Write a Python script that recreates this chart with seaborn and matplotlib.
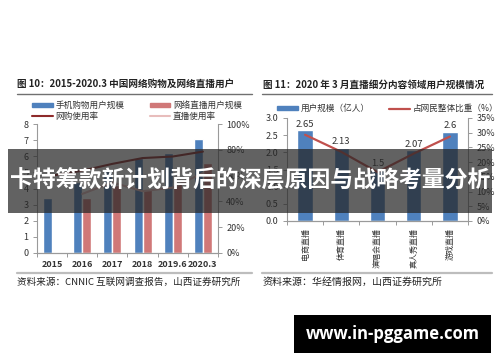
import numpy as np
import pandas as pd
import seaborn as sns
from matplotlib import pyplot as plt
from matplotlib.lines import Line2D
from matplotlib.patches import Patch, Rectangle
from matplotlib.ticker import PercentFormatter, FixedLocator

sns.set_theme(style="white")
plt.rcParams['font.family'] = ['Noto Sans CJK SC', 'DejaVu Sans']

# figure 10 data
years = ["2015", "2016", "2017", "2018", "2019.6", "2020.3"]
mobile_shop_users = [3.40, 4.41, 5.06, 5.92, 6.21, 7.07]
live_users = [np.nan, 3.44, 4.22, 3.97, 4.33, 5.60]
shop_rate = [60.0, 63.8, 69.1, 73.6, 74.8, 78.6]
live_rate = [np.nan, 45.8, 54.7, 47.9, 50.7, 62.0]

# figure 11 data
genres = ["电商直播", "体育直播", "演唱会直播", "真人秀直播", "游戏直播"]
genre_users = [2.65, 2.13, 1.5, 2.07, 2.6]
genre_share = [29.3, 23.5, 16.6, 22.9, 28.7]

BLUE = "#4F81BD"
RED_BAR = "#D07878"
DARK_RED = "#8E2A2A"
PINK = "#E8BDBC"
LINE_RED = "#C0504D"
TXT = "#333333"
SPINE = "#9A9A9A"

W, H = 500, 362
fig = plt.figure(figsize=(5, 3.62), dpi=100)
fig.patch.set_facecolor("white")


def fx(px):
    return px / W


def fy(py):
    return (H - py) / H


def style_axes(ax, axr):
    for a in (ax, axr):
        a.spines["top"].set_visible(False)
        for s in ("left", "right", "bottom"):
            a.spines[s].set_color(SPINE)
            a.spines[s].set_linewidth(0.8)
    ax.spines["right"].set_visible(False)
    axr.spines["left"].set_visible(False)
    ax.tick_params(axis="y", which="major", left=True, length=3, width=0.7,
                   color=SPINE, labelsize=6.5, labelcolor=TXT, pad=3)
    axr.tick_params(axis="y", which="major", right=True, length=3, width=0.7,
                    color=SPINE, labelsize=6.5, labelcolor=TXT, pad=3)
    ax.tick_params(axis="x", which="major", bottom=False, length=0,
                   labelsize=6.5, labelcolor=TXT, pad=5)
    ax.tick_params(axis="x", which="minor", bottom=True, length=3, width=0.7,
                   color=SPINE)
    ax.set_xlabel("")
    ax.set_ylabel("")
    axr.set_xlabel("")
    axr.set_ylabel("")


# ---------- left chart ----------
ax1 = fig.add_axes([fx(37), fy(253), fx(218) - fx(37), fy(124) - fy(253)])
bars_df = pd.DataFrame({
    "year": years * 2,
    "series": ["手机购物用户规模"] * len(years) + ["网络直播用户规模"] * len(years),
    "value": mobile_shop_users + live_users,
})
sns.barplot(data=bars_df, x="year", y="value", hue="series",
            palette=[BLUE, RED_BAR], width=0.6, gap=0, saturation=1,
            legend=False, ax=ax1)
ax1r = ax1.twinx()
pos1 = np.arange(len(years))
sns.lineplot(x=pos1, y=shop_rate, color=DARK_RED, lw=1.5, ax=ax1r)
sns.lineplot(x=pos1, y=live_rate, color=PINK, lw=1.5, ax=ax1r)
ax1.set_xlim(-0.5, len(years) - 0.5)
ax1.set_ylim(0, 8)
ax1.set_yticks(range(0, 9))
ax1r.set_ylim(0, 100)
ax1r.set_yticks(range(0, 101, 20))
ax1r.yaxis.set_major_formatter(PercentFormatter(decimals=0))
ax1.xaxis.set_minor_locator(FixedLocator(np.arange(-0.5, len(years), 1)))
style_axes(ax1, ax1r)
for lab in ax1.get_xticklabels():
    lab.set_fontweight("bold")

leg1 = [Patch(color=BLUE), Line2D([], [], color=DARK_RED, lw=1.5),
        Patch(color=RED_BAR), Line2D([], [], color=PINK, lw=1.5)]
fig.legend(leg1, ["手机购物用户规模", "网购使用率", "网络直播用户规模", "直播使用率"],
           loc="upper left", bbox_to_anchor=(fx(28), fy(97)), ncol=2,
           frameon=False, fontsize=6.2, handlelength=2.4, handleheight=0.35,
           handletextpad=0.3, columnspacing=2.9, labelspacing=0.2,
           labelcolor=TXT, borderpad=0)

# ---------- right chart ----------
ax2 = fig.add_axes([fx(287), fy(221), fx(468) - fx(287), fy(118) - fy(221)])
sns.barplot(x=genres, y=genre_users, color=BLUE, width=0.42, saturation=1,
            ax=ax2)
ax2.bar_label(ax2.containers[0], labels=[f"{v:g}" for v in genre_users],
              padding=1, fontsize=6.8, color=TXT)
ax2r = ax2.twinx()
pos2 = np.arange(len(genres))
sns.lineplot(x=pos2, y=genre_share, color=LINE_RED, lw=1.6, ax=ax2r)
ax2.set_xlim(-0.5, len(genres) - 0.5)
ax2.set_ylim(0, 3.0)
ax2.set_yticks(np.arange(0, 3.01, 0.5))
ax2.yaxis.set_major_formatter(lambda v, p: f"{v:.1f}")
ax2r.set_ylim(0, 35)
ax2r.set_yticks(range(0, 36, 5))
ax2r.yaxis.set_major_formatter(PercentFormatter(decimals=0))
ax2.xaxis.set_minor_locator(FixedLocator(np.arange(-0.5, len(genres), 1)))
style_axes(ax2, ax2r)
ax2.tick_params(axis="x", which="major", labelsize=5.8, pad=5)
for lab in ax2.get_xticklabels():
    lab.set_rotation(90)
    lab.set_va("top")

fig.legend([Patch(color=BLUE), Line2D([], [], color=LINE_RED, lw=1.6)],
           ["用户规模（亿人）", "占网民整体比重（%）"],
           loc="upper left", bbox_to_anchor=(fx(273), fy(100)), ncol=2,
           frameon=False, fontsize=6.2, handlelength=2.4, handleheight=0.35,
           handletextpad=0.3, columnspacing=2.3, labelcolor=TXT, borderpad=0)

# ---------- titles, rules, sources ----------
fig.text(fx(17), fy(84), "图 10：2015-2020.3 中国网络购物及网络直播用户",
         fontsize=6.9, fontweight="bold", color="#222222", va="center")
fig.text(fx(263), fy(85), "图 11：2020 年 3 月直播细分内容领域用户规模情况",
         fontsize=6.9, fontweight="bold", color="#222222", va="center")
for x0, x1 in ((17, 252), (262, 492)):
    fig.add_artist(Line2D([fx(x0), fx(x1)], [fy(94), fy(94)], color="#707070",
                          lw=1.0, transform=fig.transFigure))
    fig.add_artist(Line2D([fx(x0), fx(x1)], [fy(273), fy(273)], color="#BDBDBD",
                          lw=1.6, transform=fig.transFigure))
fig.text(fx(17), fy(282), "资料来源：CNNIC 互联网调查报告，山西证券研究所",
         fontsize=6.9, color="#222222", va="center")
fig.text(fx(263), fy(282), "资料来源：华经情报网，山西证券研究所",
         fontsize=7.2, color="#222222", va="center")

# ---------- overlays ----------
fig.add_artist(Rectangle((fx(8), fy(213)), fx(492) - fx(8), fy(149) - fy(213),
                         transform=fig.transFigure, facecolor="#262626",
                         alpha=0.72, edgecolor="none", zorder=10))
fig.text(0.5, fy(181), "卡特筹款新计划背后的深层原因与战略考量分析",
         fontsize=16.5, fontweight="bold", color="white", ha="center",
         va="center", zorder=11)
fig.add_artist(Rectangle((fx(294), fy(353)), fx(491) - fx(294), fy(315) - fy(353),
                         transform=fig.transFigure, facecolor="black",
                         edgecolor="none", zorder=10))
fig.text(fx(392.5), fy(334), "www.in-pggame.com", fontsize=12,
         fontweight="bold", color="white", ha="center", va="center",
         family=["Open Sans", "DejaVu Sans"], zorder=11)

fig.savefig("out.png", dpi=100)
